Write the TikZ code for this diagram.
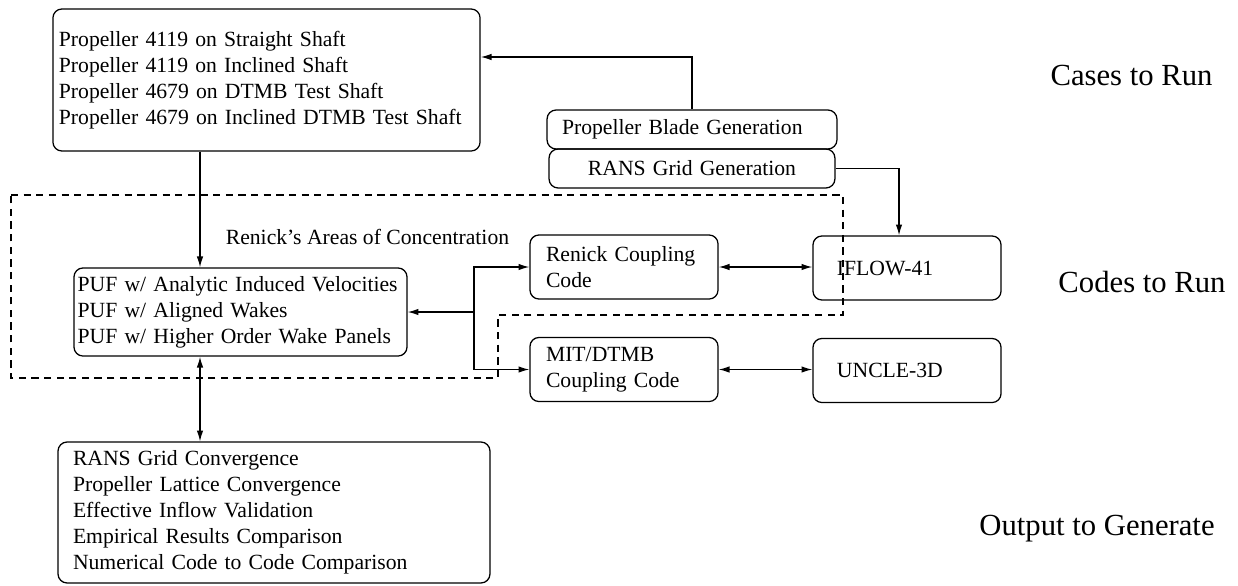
\documentclass[tikz,border=0pt]{standalone}
\usepackage{fontspec}
\setmainfont{Liberation Serif}
\usetikzlibrary{arrows.meta}

\begin{document}
\begin{tikzpicture}[
    x=0.554pt, y=-0.554pt,
    >={Latex[length=6pt,width=3.6pt]},
    line width=0.7pt,
    box/.style={draw, rounded corners=5pt, align=left, inner ysep=0pt,
      font=\fontsize{12}{14.4}\selectfont},
    side/.style={font=\fontsize{17}{20}\selectfont, anchor=base},
    region/.style={dash pattern=on 4pt off 3pt, line width=0.6pt}
  ]
  \useasboundingbox (0,0) rectangle (1238,585);

  % area that Renick worked on
  \draw[region] (11,195) -- (843,195) -- (843,315) -- (498,315)
    -- (498,378) -- (11,378) -- cycle;

  \node[box, text width=230pt, minimum height=78.7pt] (cases) at (266.5,80)
    {Propeller 4119 on Straight Shaft\\ Propeller 4119 on Inclined Shaft\\
     Propeller 4679 on DTMB Test Shaft\\ Propeller 4679 on Inclined DTMB Test Shaft};
  \node[box, inner xsep=8.3pt, text width=144pt, minimum height=21.6pt]
    (blade) at (692,129.5) {Propeller Blade Generation};
  \node[box, align=center, text width=151.7pt, minimum height=21.6pt]
    (rans) at (692,168.5) {RANS Grid Generation};

  \node[font=\fontsize{12}{14.4}\selectfont] (focus) at (367.5,237)
    {Renick's Areas of Concentration};
  \node[box, inner xsep=2pt, text width=180.5pt, minimum height=48.8pt]
    (puf) at (240.5,312) {PUF w/ Analytic Induced Velocities\\
     PUF w/ Aligned Wakes\\ PUF w/ Higher Order Wake Panels};
  \node[box, inner xsep=8.9pt, text width=86.4pt, minimum height=35.5pt]
    (renick) at (624,267) {Renick Coupling\\ Code};
  \node[box, inner xsep=8.9pt, text width=86.4pt, minimum height=35.5pt]
    (mit) at (624,369.5) {MIT/DTMB\\ Coupling Code};
  \node[box, inner xsep=13.3pt, text width=77.6pt, minimum height=35.5pt]
    (iflow) at (907,268) {IFLOW-41};
  \node[box, inner xsep=13.3pt, text width=77.6pt, minimum height=35.5pt]
    (uncle) at (907,370.5) {UNCLE-3D};

  \node[box, inner xsep=8.3pt, text width=222.7pt, minimum height=78.1pt]
    (output) at (274,512.5) {RANS Grid Convergence\\ Propeller Lattice Convergence\\
     Effective Inflow Validation\\ Empirical Results Comparison\\
     Numerical Code to Code Comparison};

  \node[side] (caseslbl) at (1131.5,85) {Cases to Run};
  \node[side] (codeslbl) at (1142,292) {Codes to Run};
  \node[side] (outputlbl) at (1097,535) {Output to Generate};

  % connectors
  \coordinate (cturn) at (0,57);
  \coordinate (bend) at (899,0);
  \coordinate (spine) at (200,0);
  \coordinate (fork) at (474,0);

  \draw[->] (blade.north) |- (cases.east |- cturn);
  \draw[->] (rans.east) -| (bend |- iflow.north);
  \draw[->] (spine |- cases.south) -- (spine |- puf.north);
  \draw[<->] (spine |- puf.south) -- (spine |- output.north);
  \draw[->] (fork |- puf.east) -- (puf.east);
  \draw[->] (fork |- puf.east) |- (renick.west);
  \draw[->] (fork |- puf.east) |- (mit.west);
  \draw[<->] (renick.east) -- (iflow.west |- renick.east);
  \draw[<->] (mit.east) -- (uncle.west |- mit.east);
\end{tikzpicture}
\end{document}
